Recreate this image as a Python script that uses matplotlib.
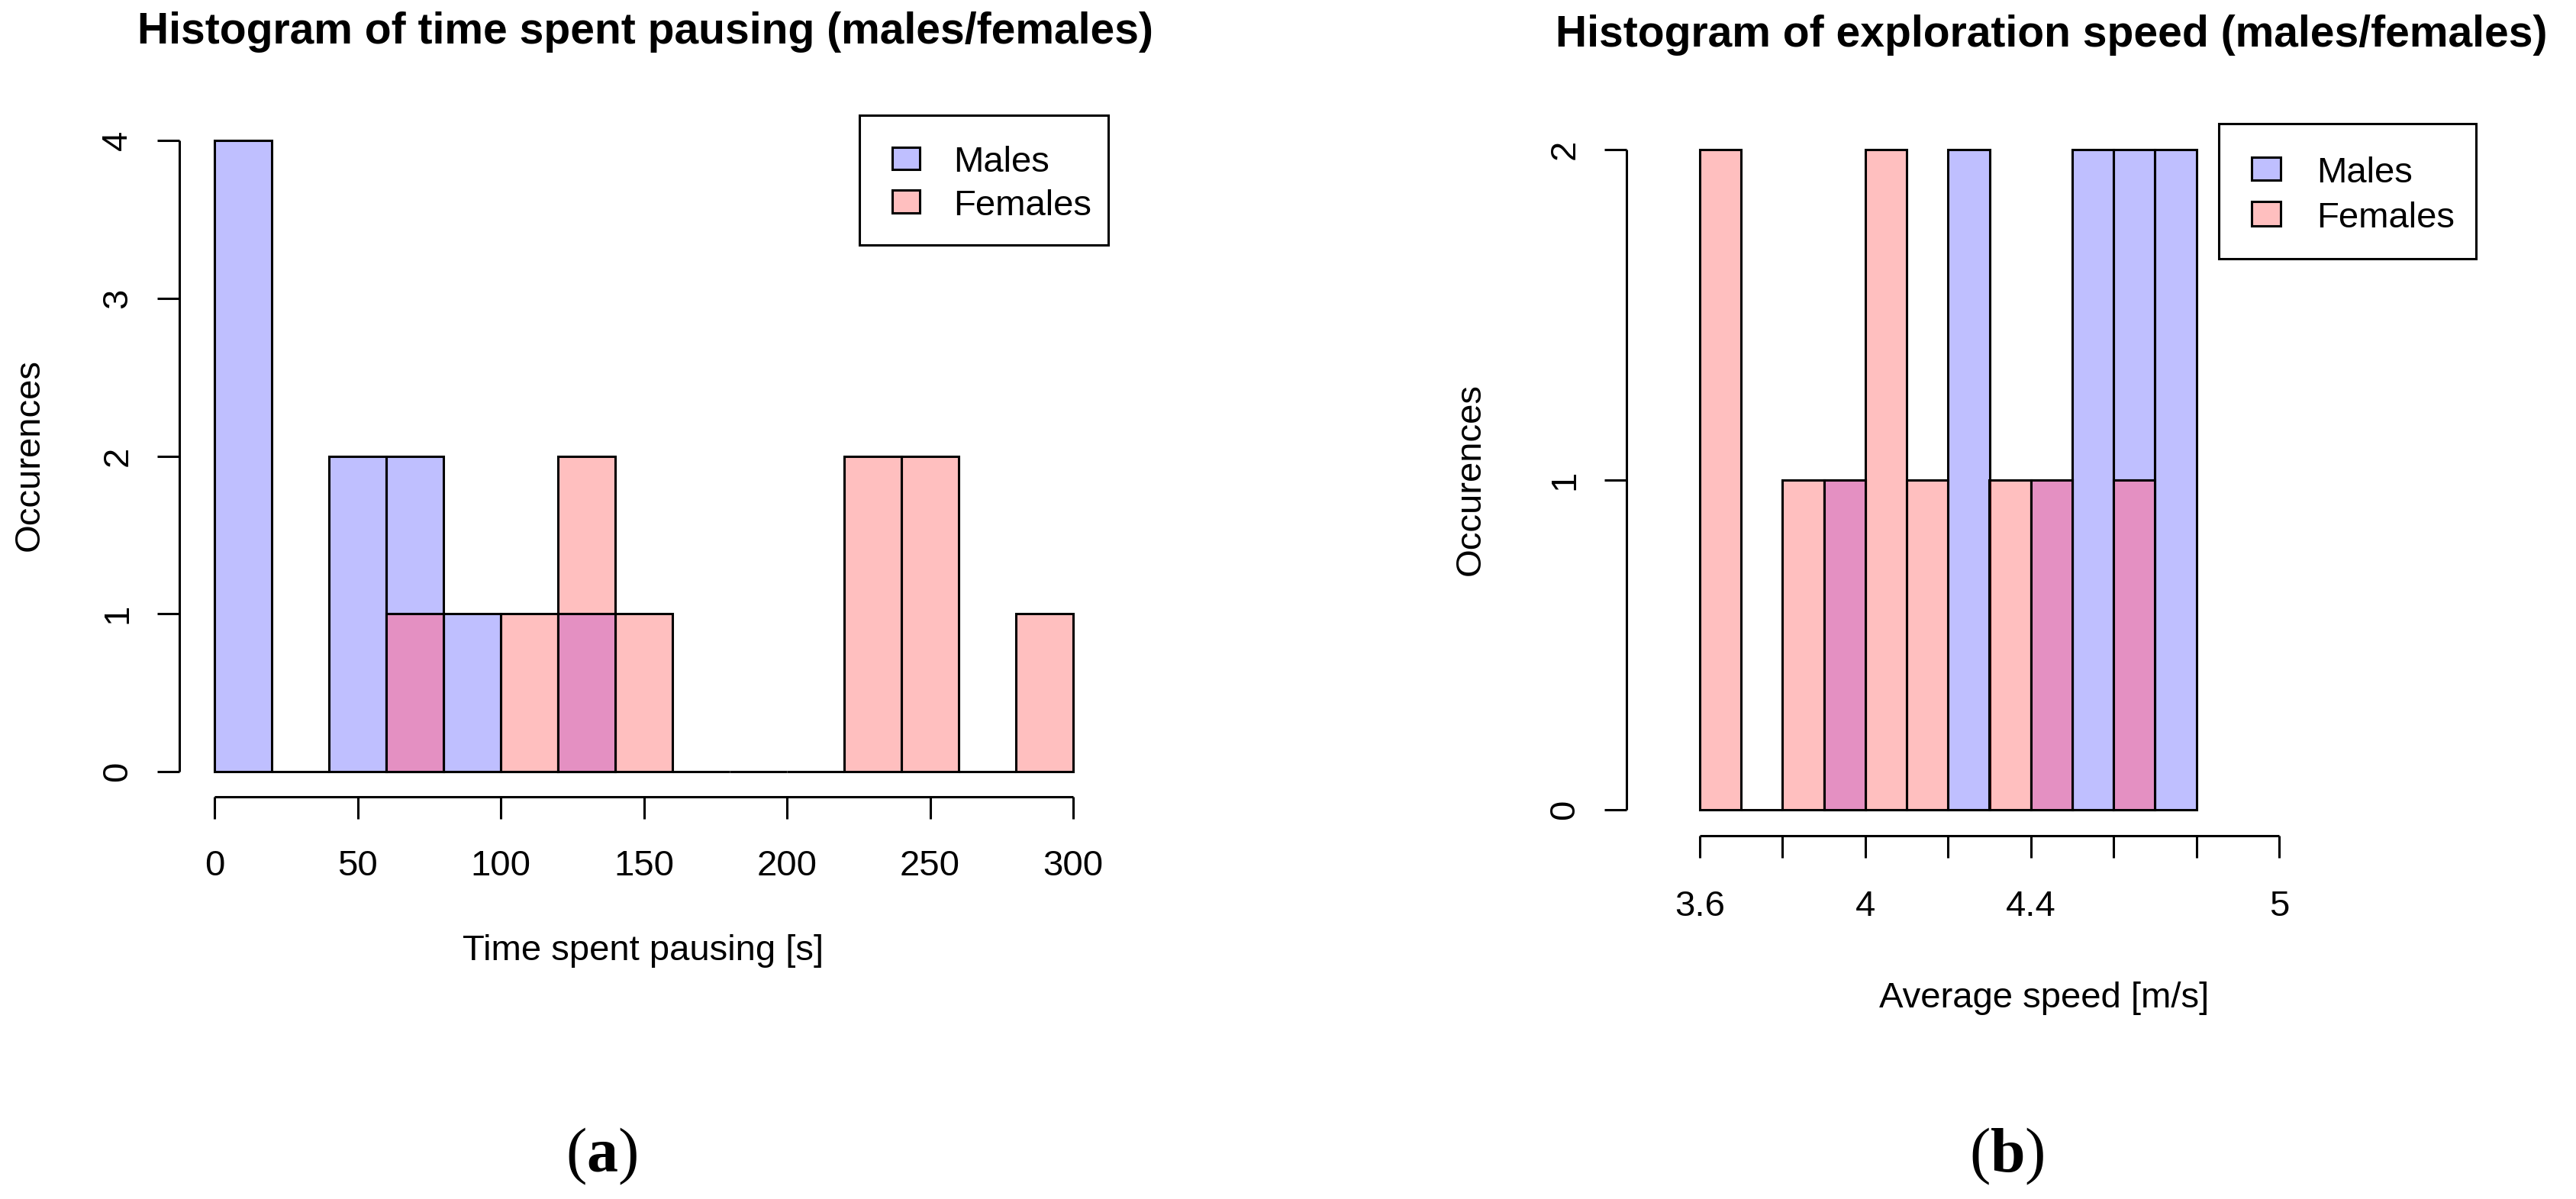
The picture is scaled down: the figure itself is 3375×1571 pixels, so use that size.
import matplotlib
matplotlib.use("Agg")
import matplotlib.pyplot as plt
from matplotlib.patches import Rectangle

# ---------------- data ----------------
pause_bin_width = 20
pause_male_edges = [0, 20, 40, 60, 80, 100, 120]
pause_male_counts = [4, 0, 2, 2, 1, 0, 1]
pause_female_edges = [60, 80, 100, 120, 140, 160, 180, 200, 220, 240, 260, 280]
pause_female_counts = [1, 0, 1, 2, 1, 0, 0, 0, 2, 2, 0, 1]
pause_xticks = [0, 50, 100, 150, 200, 250, 300]
pause_yticks = [0, 1, 2, 3, 4]

speed_bin_width = 0.1
speed_male_edges = [3.9, 4.0, 4.1, 4.2, 4.3, 4.4, 4.5, 4.6, 4.7]
speed_male_counts = [1, 0, 0, 2, 0, 1, 2, 2, 2]
speed_female_edges = [3.6, 3.7, 3.8, 3.9, 4.0, 4.1, 4.2, 4.3, 4.4, 4.5, 4.6]
speed_female_counts = [2, 0, 1, 1, 2, 1, 0, 1, 1, 0, 1]
speed_xticks = [3.6, 3.8, 4.0, 4.2, 4.4, 4.6, 4.8, 5.0]
speed_xticklabels = ["3.6", "", "4", "", "4.4", "", "", "5"]
speed_yticks = [0, 1, 2]

legend_labels = ["Males", "Females"]
title_a = "Histogram of time spent pausing (males/females)"
title_b = "Histogram of exploration speed (males/females)"
xlabel_a = "Time spent pausing [s]"
xlabel_b = "Average speed [m/s]"
ylabel = "Occurences"

# ---------------- style ----------------
W, H = 3375, 1571
DPI = 100
PT = 72.0 / DPI          # points per pixel
MALE = (0, 0, 1, 0.25)
FEMALE = (1, 0, 0, 0.25)
OVERLAP = "#e490c2"
LW = 2.2
BASE = 34
plt.rcParams["font.family"] = ["Liberation Sans", "DejaVu Sans"]
plt.rcParams["mathtext.fontset"] = "custom"
plt.rcParams["mathtext.rm"] = "Liberation Serif"
plt.rcParams["mathtext.bf"] = "Liberation Serif:bold"

fig = plt.figure(figsize=(W / DPI, H / DPI), dpi=DPI)
fig.patch.set_facecolor("white")


def fx(x):
    return x / W


def fy(y):
    return 1 - y / H


def axes_px(left, top, right, bottom):
    return fig.add_axes([fx(left), fy(bottom), (right - left) / W, (bottom - top) / H])


def style_axes(ax, xlim, ylim, xticks, yticks, xlabels, left_off, bottom_off, xpad, ypad):
    ax.set_xlim(*xlim)
    ax.set_ylim(*ylim)
    ax.patch.set_visible(False)
    for s in ("top", "right"):
        ax.spines[s].set_visible(False)
    ax.spines["left"].set_position(("outward", left_off * PT))
    ax.spines["bottom"].set_position(("outward", bottom_off * PT))
    ax.spines["left"].set_bounds(yticks[0], yticks[-1])
    ax.spines["bottom"].set_bounds(xticks[0], xticks[-1])
    for s in ("left", "bottom"):
        ax.spines[s].set_linewidth(LW)
        ax.spines[s].set_capstyle("butt")
    ax.set_xticks(xticks)
    ax.set_xticklabels(xlabels)
    ax.set_yticks(yticks)
    ax.set_yticklabels([str(v) for v in yticks])
    ax.tick_params(axis="both", length=29 * PT, width=LW, labelsize=BASE, direction="out")
    ax.tick_params(axis="x", pad=xpad)
    ax.tick_params(axis="y", pad=ypad)
    for lab in ax.get_yticklabels():
        lab.set_rotation(90)
        lab.set_va("center")
        lab.set_ha("right")


def draw_hist(ax, edges, counts, width, color):
    ax.bar(edges, counts, width=width, align="edge", color=color,
           edgecolor="black", linewidth=LW, clip_on=False)


def draw_overlap(ax, m_edges, m_counts, f_edges, f_counts, width):
    fem = {round(e, 6): c for e, c in zip(f_edges, f_counts)}
    xs, hs = [], []
    for e, c in zip(m_edges, m_counts):
        k = round(e, 6)
        if k in fem and min(c, fem[k]) > 0:
            xs.append(e)
            hs.append(min(c, fem[k]))
    ax.bar(xs, hs, width=width, align="edge", color=OVERLAP,
           edgecolor="black", linewidth=LW, clip_on=False)


def draw_legend(box, sq_x, sq_w, rows, text_x):
    x0, y0, x1, y1 = box
    fig.add_artist(Rectangle((fx(x0), fy(y1)), (x1 - x0) / W, (y1 - y0) / H,
                             transform=fig.transFigure, facecolor="white",
                             edgecolor="black", linewidth=LW))
    for (top, bot, base), col, lab in zip(rows, (MALE, FEMALE), legend_labels):
        fig.add_artist(Rectangle((fx(sq_x), fy(bot)), sq_w / W, (bot - top) / H,
                                 transform=fig.transFigure, facecolor=col,
                                 edgecolor="black", linewidth=LW))
        fig.text(fx(text_x), fy(base), lab, fontsize=BASE, ha="left", va="baseline")


# ---------------- panel (a) ----------------
ax1 = axes_px(281, 184, 1406, 1011)
draw_hist(ax1, pause_male_edges, pause_male_counts, pause_bin_width, MALE)
draw_hist(ax1, pause_female_edges, pause_female_counts, pause_bin_width, FEMALE)
draw_overlap(ax1, pause_male_edges, pause_male_counts, pause_female_edges,
             pause_female_counts, pause_bin_width)
style_axes(ax1, (0, 300), (0, 4), pause_xticks, pause_yticks,
           [str(v) for v in pause_xticks], 46, 33, 29, 21.5)
fig.text(fx(845), fy(57), title_a, fontsize=41, fontweight="bold", ha="center", va="baseline")
fig.text(fx(843), fy(1258), xlabel_a, fontsize=BASE, ha="center", va="baseline")
fig.text(fx(39), fy(596), ylabel, fontsize=BASE, rotation=90, ha="center", va="center")
draw_legend((1126, 151, 1452, 321), 1169, 36,
            [(193, 222, 225), (249, 279, 282)], 1249)

# ---------------- panel (b) ----------------
ax2 = axes_px(2227, 196, 2986, 1061)
draw_hist(ax2, speed_male_edges, speed_male_counts, speed_bin_width, MALE)
draw_hist(ax2, speed_female_edges, speed_female_counts, speed_bin_width, FEMALE)
draw_overlap(ax2, speed_male_edges, speed_male_counts, speed_female_edges,
             speed_female_counts, speed_bin_width)
style_axes(ax2, (3.6, 5.0), (0, 2), speed_xticks, speed_yticks,
           speed_xticklabels, 96, 34, 30, 21.5)
fig.text(fx(2688), fy(61), title_b, fontsize=41, fontweight="bold", ha="center", va="baseline")
fig.text(fx(2678), fy(1320), xlabel_b, fontsize=BASE, ha="center", va="baseline")
fig.text(fx(1927), fy(628), ylabel, fontsize=BASE, rotation=90, ha="center", va="center")
draw_legend((2907, 162, 3244, 339), 2950, 38,
            [(206, 236, 239), (264, 296, 298)], 3035)

# ---------------- captions ----------------
fig.text(fx(788), fy(1535), r"($\mathbf{a}$)", fontsize=59, family="Liberation Serif",
         ha="center", va="baseline")
fig.text(fx(2629), fy(1535), r"($\mathbf{b}$)", fontsize=59, family="Liberation Serif",
         ha="center", va="baseline")

fig.savefig("out.png", dpi=DPI, facecolor="white")
